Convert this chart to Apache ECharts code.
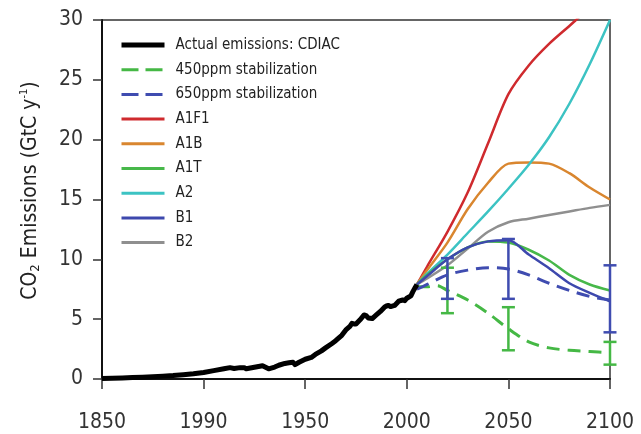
<!DOCTYPE html>
<html><head><meta charset="utf-8">
<script src="https://cdn.jsdelivr.net/npm/echarts@6/dist/echarts.min.js"></script>
<style>html,body{margin:0;padding:0;background:#fff}#c{width:641px;height:434px}</style>
</head><body><div id="c"></div>
<script>
// ---- data ----
const cdiacYears  = [1850,1855,1860,1865,1870,1875,1880,1885,1890,1895,1900,1905,1910,1913,1915,1918,1920,1921,1925,1929,1932,1935,1937,1940,1942,1944,1945,1947,1950,1953,1955,1958,1960,1963,1965,1968,1970,1972,1973,1974,1975,1977,1979,1980,1981,1983,1985,1987,1989,1990,1991,1992,1994,1996,1998,1999,2000,2002,2003,2004,2005];
const cdiacValues = [0.05,0.07,0.09,0.12,0.15,0.19,0.24,0.29,0.36,0.44,0.55,0.70,0.85,0.95,0.88,0.95,0.95,0.85,0.98,1.10,0.85,1.00,1.15,1.30,1.35,1.40,1.20,1.40,1.65,1.80,2.05,2.35,2.60,2.95,3.20,3.65,4.10,4.40,4.65,4.60,4.60,4.95,5.35,5.30,5.10,5.05,5.35,5.65,6.00,6.10,6.15,6.05,6.15,6.50,6.60,6.55,6.75,6.95,7.30,7.60,7.90];

const scenYears = [2005,2010,2020,2030,2040,2050,2060,2070,2080,2090,2100];
const a1f1 = [7.9, 9.4, 12.3, 15.6, 19.7, 23.8, 26.2, 28.0, 29.5, 31.0, 32.2];
const a1b  = [7.9, 9.1, 11.4, 14.2, 16.4, 18.0, 18.1, 18.0, 17.2, 16.0, 15.0];
const a1t  = [7.9, 8.7, 10.0, 11.0, 11.5, 11.4, 10.8, 9.9, 8.7, 7.9, 7.4];
const a2   = [7.9, 8.8, 10.4, 12.2, 14.0, 15.9, 17.9, 20.2, 23.0, 26.3, 30.0];
const b1   = [7.9, 8.6, 10.0, 11.0, 11.5, 11.6, 10.4, 9.25, 8.0, 7.2, 6.5];
const b2   = [7.9, 8.4, 9.5, 10.9, 12.3, 13.1, 13.4, 13.7, 14.0, 14.3, 14.55];

const stab650Years = [2005,2010,2020,2030,2040,2050,2060,2070,2080,2090,2100];
const stab650 = [7.5, 7.9, 8.7, 9.1, 9.3, 9.2, 8.7, 8.0, 7.4, 6.9, 6.6];
const stab450Years = [2005,2010,2015,2020,2030,2040,2050,2060,2070,2080,2090,2100];
const stab450 = [7.7, 7.7, 7.8, 7.4, 6.6, 5.5, 4.2, 3.1, 2.6, 2.4, 2.3, 2.2];

const errYears = [2020, 2050, 2100];
const err650Low  = [6.7, 6.7, 3.9];
const err650High = [10.1, 11.7, 9.5];
const err450Low  = [5.5, 2.4, 1.2];
const err450High = [9.3, 6.0, 3.1];

const xTickLabels = ['1850','1990','1950','2000','2050','2100'];
const legendNames = ['Actual emissions: CDIAC','450ppm stabilization','650ppm stabilization','A1F1','A1B','A1T','A2','B1','B2'];

// ---- helpers ----
const zip = (xs, ys) => xs.map((x, i) => [x, ys[i]]);
const FONT = '"Liberation Sans Narrow","DejaVu Sans Condensed","Arial Narrow",sans-serif';
const C = {
  black:'#000000', g450:'#45b845', b650:'#3f4cb0', a1f1:'#cf2a2e', a1b:'#d9862f',
  a1t:'#47b84a', a2:'#3cc3c3', b1:'#3d48ad', b2:'#8f8f8f'
};

function lineSeries(name, data, color, width, dashed, z) {
  return {
    name, type:'line', data, symbol:'none', smooth:0.3, clip:true, z: z || 2,
    lineStyle:{ color, width, type: dashed ? [13, 8] : 'solid', cap:'butt', join:'round' },
    itemStyle:{ color }
  };
}
function errSeries(low, high, color, z) {
  const data = errYears.map((y, i) => [y, low[i], high[i]]);
  return {
    type:'custom', data, z, silent:true,
    renderItem(params, api) {
      const x = api.value(0);
      const p1 = api.coord([x, api.value(1)]);
      const p2 = api.coord([x, api.value(2)]);
      const hw = 6.5;
      const st = { stroke: color, lineWidth: 2.5 };
      return { type:'group', children:[
        { type:'line', shape:{x1:p1[0], y1:p1[1], x2:p2[0], y2:p2[1]}, style:st },
        { type:'line', shape:{x1:p1[0]-hw, y1:p1[1], x2:p1[0]+hw, y2:p1[1]}, style:st },
        { type:'line', shape:{x1:p2[0]-hw, y1:p2[1], x2:p2[0]+hw, y2:p2[1]}, style:st }
      ]};
    }
  };
}

const legendData = legendNames.map((name, i) => {
  if (i === 0) return { name, lineStyle:{ width:5 } };
  if (i === 1 || i === 2) return { name, lineStyle:{ width:3, type:[17, 7] } };
  return { name, lineStyle:{ width:3 } };
});

const chart = echarts.init(document.getElementById('c'), null, { renderer:'canvas' });
chart.setOption({
  animation:false,
  backgroundColor:'#fff',
  grid:{ left:102, top:20, width:508, height:359, show:true, borderColor:'#333', borderWidth:1.5, backgroundColor:'transparent' },
  legend:{
    data: legendData, orient:'vertical', left:114, top:30,
    itemWidth:43, itemHeight:14, itemGap:4.7,
    itemStyle:{ opacity:0 },
    textStyle:{ fontFamily:FONT, fontSize:15, color:'#222', lineHeight:20, padding:[0,0,0,6] },
    inactiveColor:'#ccc'
  },
  xAxis:{
    type:'value', min:1850, max:2100, interval:50,
    axisLine:{ show:true, lineStyle:{ color:'#111', width:2 } },
    axisTick:{ show:true, length:10, lineStyle:{ color:'#333', width:1.5 } },
    axisLabel:{ margin:33, fontFamily:FONT, fontSize:21, color:'#333',
      formatter: v => xTickLabels[Math.round((v - 1850) / 50)] },
    splitLine:{ show:false }
  },
  yAxis:{
    type:'value', min:0, max:30, interval:5,
    name:'{a|CO}{s|2}{a| Emissions (GtC y}{u|-1}{a|)}',
    nameLocation:'middle', nameRotate:90, nameGap:60,
    nameTextStyle:{ padding:[0,0,0,18], rich:{
      a:{ fontFamily:FONT, fontSize:21, color:'#222' },
      s:{ fontFamily:FONT, fontSize:13, color:'#222', verticalAlign:'bottom', padding:[10,0,0,0] },
      u:{ fontFamily:FONT, fontSize:11, color:'#222', verticalAlign:'top', padding:[0,0,8,0] }
    }},
    axisLine:{ show:true, lineStyle:{ color:'#111', width:2 } },
    axisTick:{ show:true, inside:false, length:9, lineStyle:{ color:'#333', width:1.5 } },
    axisLabel:{ margin:19, fontFamily:FONT, fontSize:21, color:'#333' },
    splitLine:{ show:false }
  },
  series:[
    lineSeries('A1F1', zip(scenYears, a1f1), C.a1f1, 2.5, false, 2),
    lineSeries('A1B',  zip(scenYears, a1b),  C.a1b,  2.5, false, 2),
    lineSeries('A2',   zip(scenYears, a2),   C.a2,   2.5, false, 2),
    lineSeries('B2',   zip(scenYears, b2),   C.b2,   2.5, false, 2),
    lineSeries('A1T',  zip(scenYears, a1t),  C.a1t,  2.5, false, 3),
    lineSeries('B1',   zip(scenYears, b1),   C.b1,   2.5, false, 4),
    errSeries(err450Low, err450High, C.g450, 5),
    lineSeries('450ppm stabilization', zip(stab450Years, stab450), C.g450, 3, true, 5),
    errSeries(err650Low, err650High, C.b650, 6),
    lineSeries('650ppm stabilization', zip(stab650Years, stab650), C.b650, 3, true, 6),
    Object.assign(lineSeries('Actual emissions: CDIAC', zip(cdiacYears, cdiacValues), C.black, 5, false, 8), { smooth:false })
  ]
});
</script>
</body></html>
